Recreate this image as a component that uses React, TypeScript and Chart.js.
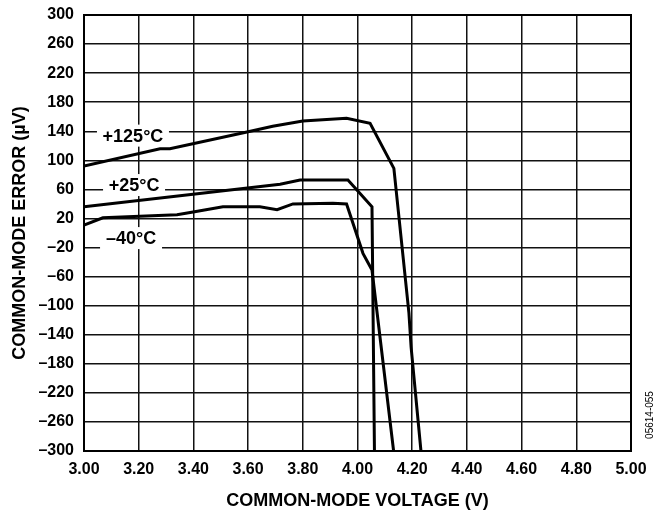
import React, { useEffect, useRef } from "react";
import { Chart, registerables } from "chart.js";

Chart.register(...registerables);

const xTicks = [3.0, 3.2, 3.4, 3.6, 3.8, 4.0, 4.2, 4.4, 4.6, 4.8, 5.0];
const yTicks = [-300, -260, -220, -180, -140, -100, -60, -20, 20, 60, 100, 140, 180, 220, 260, 300];

const v125 = [3.0, 3.278, 3.314, 3.596, 3.69, 3.8, 3.96, 4.046, 4.133, 4.188, 4.196, 4.232];
const e125 = [92, 116, 116, 139, 147, 154, 158, 151, 89, -110, -157, -300];

const v25 = [3.0, 3.717, 3.79, 3.936, 3.965, 4.053, 4.062];
const e25 = [36, 67, 73, 73, 73, 36, -300];

const vm40 = [3.0, 3.069, 3.34, 3.399, 3.508, 3.643, 3.706, 3.764, 3.91, 3.96, 4.02, 4.053, 4.132];
const em40 = [11, 21, 25, 29, 36, 36, 32, 40, 41, 40, -28, -51, -300];

const curveLabels = ["+125°C", "+25°C", "–40°C"];
const labelX = [3.179, 3.183, 3.172];
const labelY = [134, 66, -7];
const labelBoxW = [72, 62, 62];

const FONT = "'Liberation Sans', Arial, Helvetica, sans-serif";

function pts(xs: number[], ys: number[]) {
  return xs.map((x, i) => ({ x, y: ys[i] }));
}

export default function App() {
  const ref = useRef<HTMLCanvasElement | null>(null);

  useEffect(() => {
    document.body.style.margin = "0";
    const canvas = ref.current;
    if (!canvas) return;

    const annot = {
      id: "annot",
      beforeDatasetsDraw(chart: any) {
        const ctx = chart.ctx;
        const xs = chart.scales.x;
        const ys = chart.scales.y;
        ctx.save();
        ctx.font = `bold 18px ${FONT}`;
        ctx.textAlign = "center";
        ctx.textBaseline = "middle";
        curveLabels.forEach((t, i) => {
          const px = xs.getPixelForValue(labelX[i]);
          const py = ys.getPixelForValue(labelY[i]);
          ctx.fillStyle = "#fff";
          ctx.fillRect(px - labelBoxW[i] / 2, py - 11, labelBoxW[i], 22);
          ctx.fillStyle = "#000";
          ctx.fillText(t, px, py + 1);
        });
        ctx.restore();
      },
      afterDraw(chart: any) {
        const ctx = chart.ctx;
        const a = chart.chartArea;
        ctx.save();
        ctx.strokeStyle = "#000";
        ctx.lineWidth = 2;
        ctx.strokeRect(a.left, a.top, a.right - a.left, a.bottom - a.top);
        ctx.translate(650, 415);
        ctx.rotate(-Math.PI / 2);
        ctx.font = `10px ${FONT}`;
        ctx.fillStyle = "#000";
        ctx.textAlign = "center";
        ctx.textBaseline = "middle";
        ctx.fillText("05614-055", 0, 0);
        ctx.restore();
      },
    };

    const ds = (data: any) => ({
      data,
      borderColor: "#000",
      borderWidth: 3,
      pointRadius: 0,
      tension: 0,
      fill: false,
    });

    const chart = new Chart(canvas, {
      type: "line",
      data: {
        datasets: [ds(pts(v125, e125)), ds(pts(v25, e25)), ds(pts(vm40, em40))],
      },
      options: {
        animation: false,
        responsive: false,
        maintainAspectRatio: false,
        layout: { padding: { top: 15, right: 31, left: 0, bottom: 0 } },
        plugins: { legend: { display: false }, tooltip: { enabled: false } },
        scales: {
          x: {
            type: "linear",
            min: 3,
            max: 5,
            afterBuildTicks: (s: any) => {
              s.ticks = xTicks.map((v) => ({ value: v }));
            },
            afterFit: (s: any) => {
              s.height = 65;
              s.paddingLeft = 0;
              s.paddingRight = 0;
            },
            ticks: {
              padding: 9,
              color: "#000",
              font: { family: FONT, size: 16, weight: "bold" },
              callback: (v: any) => Number(v).toFixed(2),
              maxRotation: 0,
            },
            grid: { color: "#111", lineWidth: 1.5, drawTicks: false },
            border: { display: true, color: "#000", width: 2 },
            title: {
              display: true,
              text: "COMMON-MODE VOLTAGE (V)",
              color: "#000",
              font: { family: FONT, size: 18, weight: "bold" },
              padding: { top: 0, bottom: 4 },
            },
          },
          y: {
            type: "linear",
            min: -300,
            max: 300,
            afterBuildTicks: (s: any) => {
              s.ticks = yTicks.map((v) => ({ value: v }));
            },
            afterFit: (s: any) => {
              s.width = 84;
              s.paddingTop = 0;
              s.paddingBottom = 0;
            },
            ticks: {
              padding: 10,
              color: "#000",
              font: { family: FONT, size: 16, weight: "bold" },
              callback: (v: any) => (Number(v) < 0 ? "–" + Math.abs(Number(v)) : String(v)),
            },
            grid: { color: "#111", lineWidth: 1.5, drawTicks: false },
            border: { display: true, color: "#000", width: 2 },
            title: {
              display: true,
              text: "COMMON-MODE ERROR (µV)",
              color: "#000",
              font: { family: FONT, size: 18, weight: "bold" },
              padding: { top: 9, bottom: 0 },
            },
          },
        },
      },
      plugins: [annot],
    });

    return () => chart.destroy();
  }, []);

  return (
    <div style={{ width: 662, height: 516, background: "#fff" }}>
      <canvas ref={ref} width={662} height={516} style={{ display: "block" }} />
    </div>
  );
}
